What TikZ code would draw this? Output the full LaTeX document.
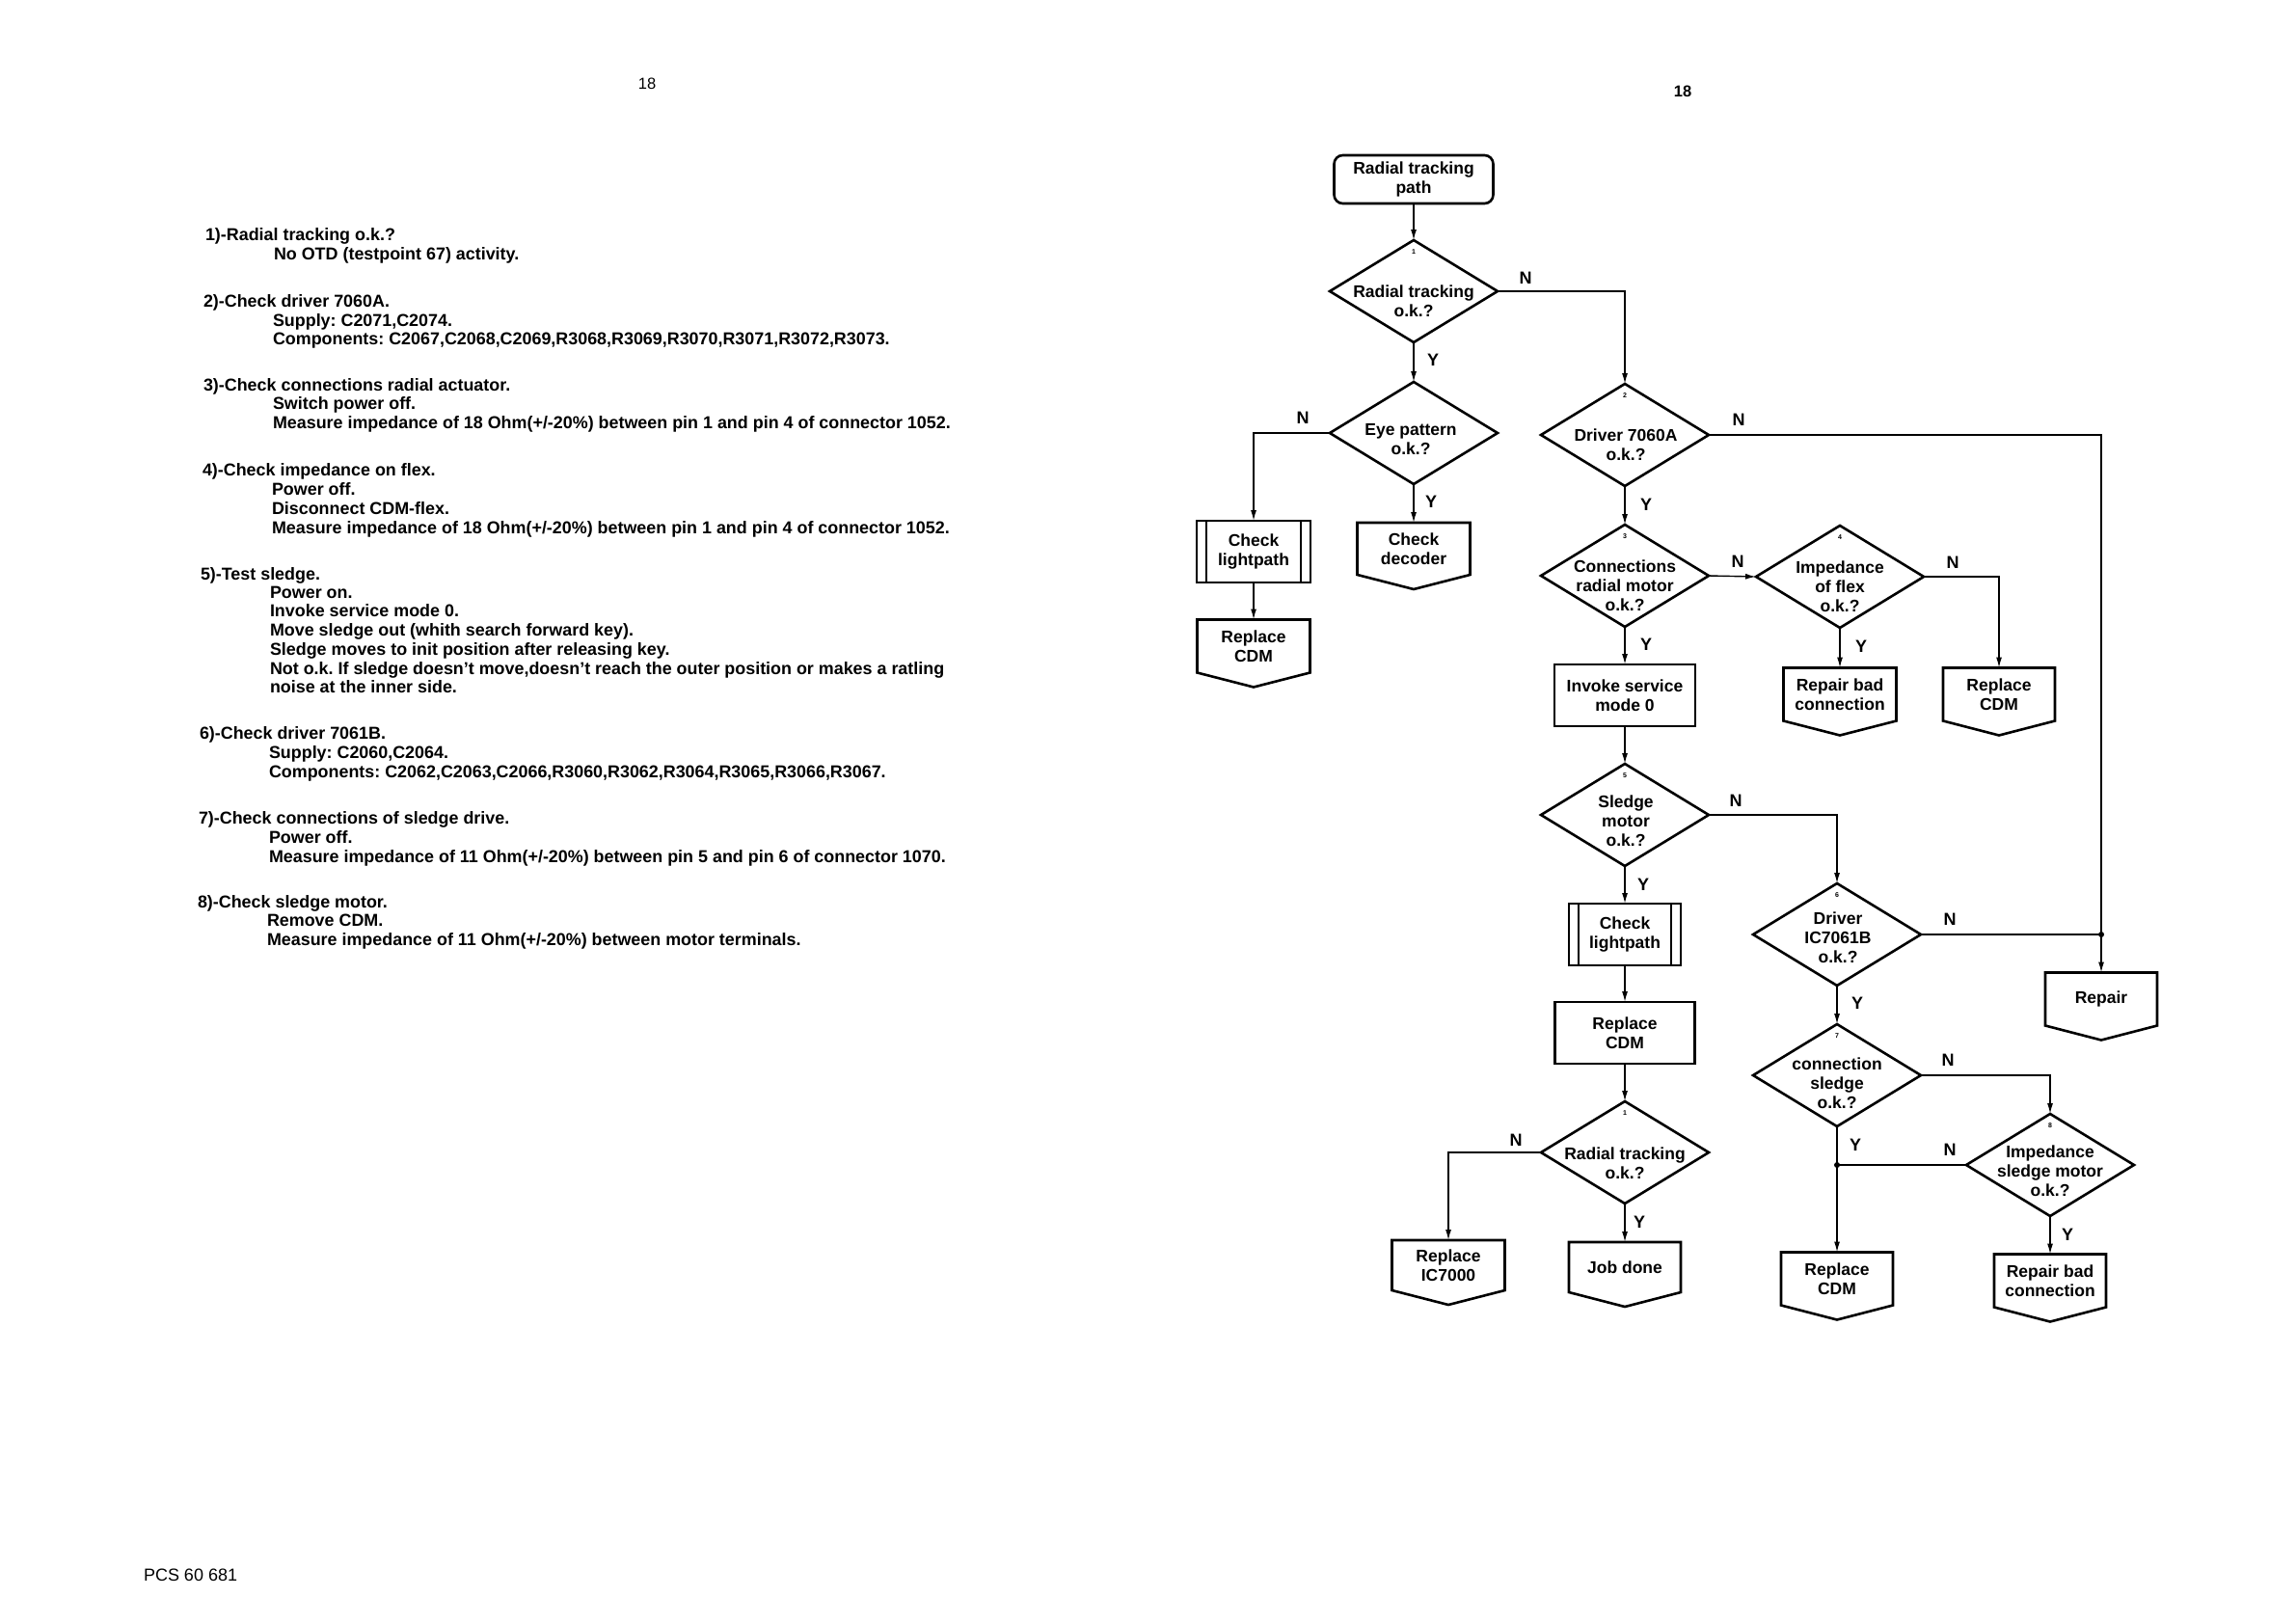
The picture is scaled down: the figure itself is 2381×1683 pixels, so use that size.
\documentclass[tikz,border=0pt]{standalone}
\usepackage{fontspec}
\setmainfont{Liberation Sans}
\usetikzlibrary{shapes.geometric,arrows.meta,calc}
\frenchspacing
\newcommand\opg[1]{\draw[line width=2.6pt,line join=miter] (#1.north west) -- (#1.north east) -- (#1.south east) -- ([yshift=-15pt]#1.south) -- (#1.south west) -- cycle;}
\newcommand\ppr[1]{\draw[line width=2.6pt] (#1.north west) rectangle (#1.south east);
  \draw[line width=2pt] ([xshift=10pt]#1.north west) -- ([xshift=10pt]#1.south west);
  \draw[line width=2pt] ([xshift=-10pt]#1.north east) -- ([xshift=-10pt]#1.south east);}
\begin{document}
\begin{tikzpicture}[x=1pt,y=-1pt,
  every node/.style={inner sep=0pt,outer sep=0pt},
  shp/.style={line width=2.6pt,font=\fontsize{17.5}{20}\selectfont\bfseries,align=center},
  dia/.style={shp,draw,diamond,minimum width=174pt,minimum height=106pt},
  dtext/.style={font=\fontsize{17.5}{20}\selectfont\bfseries,align=center},
  plainbox/.style={shp,draw,rectangle,minimum width=#1,minimum height=64pt},
  opbox/.style={shp,rectangle,minimum width=#1,minimum height=55pt},
  conn/.style={line width=1.4pt},
  arr/.style={conn,-{Latex[length=11pt,width=6pt]}},
  lab/.style={font=\fontsize{18}{20}\selectfont\bfseries},
  num/.style={font=\fontsize{7}{8}\selectfont\bfseries},
  body/.style={font=\fontsize{17.9}{20}\selectfont\bfseries,anchor=base west}]
\useasboundingbox (0,0) rectangle (2381,1683);
\fill[white] (0,0) rectangle (2381,1683);

% page headers
\node[font=\fontsize{16.5}{18}\selectfont] (pgL) at (671,87) {18};
\node[font=\fontsize{16.5}{18}\selectfont\bfseries] (pgR) at (1745,95) {18};
\node[font=\fontsize{18}{20}\selectfont,anchor=west] (pcs) at (149,1633) {PCS 60 681};

% left text
\node[body] (t1a) at (213,249) {1)-Radial tracking o.k.?};
\node[body] (t1b) at (284,269) {No OTD (testpoint 67) activity.};
\node[body] (t2a) at (211,318) {2)-Check driver 7060A.};
\node[body] (t2b) at (283,338) {Supply: C2071,C2074.};
\node[body] (t2c) at (283,357) {Components: C2067,C2068,C2069,R3068,R3069,R3070,R3071,R3072,R3073.};
\node[body] (t3a) at (211,405) {3)-Check connections radial actuator.};
\node[body] (t3b) at (283,424) {Switch power off.};
\node[body] (t3c) at (283,444) {Measure impedance of 18 Ohm(+/-20\%) between pin 1 and pin 4 of connector 1052.};
\node[body] (t4a) at (210,493) {4)-Check impedance on flex.};
\node[body] (t4b) at (282,513) {Power off.};
\node[body] (t4c) at (282,533) {Disconnect CDM-flex.};
\node[body] (t4d) at (282,553) {Measure impedance of 18 Ohm(+/-20\%) between pin 1 and pin 4 of connector 1052.};
\node[body] (t5a) at (208,601) {5)-Test sledge.};
\node[body] (t5b) at (280,620) {Power on.};
\node[body] (t5c) at (280,639) {Invoke service mode 0.};
\node[body] (t5d) at (280,659) {Move sledge out (whith search forward key).};
\node[body] (t5e) at (280,679) {Sledge moves to init position after releasing key.};
\node[body] (t5f) at (280,699) {Not o.k. If sledge doesn't move,doesn't reach the outer position or makes a ratling};
\node[body] (t5g) at (280,718) {noise at the inner side.};
\node[body] (t6a) at (207,766) {6)-Check driver 7061B.};
\node[body] (t6b) at (279,786) {Supply: C2060,C2064.};
\node[body] (t6c) at (279,806) {Components: C2062,C2063,C2066,R3060,R3062,R3064,R3065,R3066,R3067.};
\node[body] (t7a) at (206,854) {7)-Check connections of sledge drive.};
\node[body] (t7b) at (279,874) {Power off.};
\node[body] (t7c) at (279,894) {Measure impedance of 11 Ohm(+/-20\%) between pin 5 and pin 6 of connector 1070.};
\node[body] (t8a) at (205,941) {8)-Check sledge motor.};
\node[body] (t8b) at (277,960) {Remove CDM.};
\node[body] (t8c) at (277,980) {Measure impedance of 11 Ohm(+/-20\%) between motor terminals.};

% flowchart shapes
\node[shp,draw,rectangle,rounded corners=9pt,minimum width=165pt,minimum height=50pt] (start) at (1466,186) {Radial tracking\\path};

\node[dia] (d1) at (1466,302) {};
\node[dtext] (d1t) at (1466,312) {Radial tracking\\o.k.?};
\node[num] (d1n) at ([yshift=-12pt]d1.north) {1};

\node[dia] (eye) at (1466,449) {};
\node[dtext] (eyet) at (1463,456) {Eye pattern\\o.k.?};

\node[dia] (d2) at (1685,451) {};
\node[dtext] (d2t) at (1686,461) {Driver 7060A\\o.k.?};
\node[num] (d2n) at ([yshift=-12pt]d2.north) {2};

\node[dia] (d3) at (1685,597) {};
\node[dtext] (d3t) at (1685,607) {Connections\\radial motor\\o.k.?};
\node[num] (d3n) at ([yshift=-12pt]d3.north) {3};

\node[dia] (d4) at (1908,598) {};
\node[dtext] (d4t) at (1908,608) {Impedance\\of flex\\o.k.?};
\node[num] (d4n) at ([yshift=-12pt]d4.north) {4};

\node[dia] (d5) at (1685,845) {};
\node[dtext] (d5t) at (1686,851) {Sledge\\motor\\o.k.?};
\node[num] (d5n) at ([yshift=-12pt]d5.north) {5};

\node[dia] (d6) at (1905,969) {};
\node[dtext] (d6t) at (1906,972) {Driver\\IC7061B\\o.k.?};
\node[num] (d6n) at ([yshift=-12pt]d6.north) {6};

\node[dia] (d7) at (1905,1115) {};
\node[dtext] (d7t) at (1905,1123) {connection\\sledge\\o.k.?};
\node[num] (d7n) at ([yshift=-12pt]d7.north) {7};

\node[dia] (d1b) at (1685,1195) {};
\node[dtext] (d1bt) at (1685,1206) {Radial tracking\\o.k.?};
\node[num] (d1bn) at ([yshift=-12pt]d1b.north) {1};

\node[dia] (d8) at (2126,1208) {};
\node[dtext] (d8t) at (2126,1214) {Impedance\\sledge motor\\o.k.?};
\node[num] (d8n) at ([yshift=-12pt]d8.north) {8};

\node[shp,rectangle,minimum width=118pt,minimum height=64pt] (cl1) at (1300,572) {Check\\lightpath};
\ppr{cl1}
\node[opbox=117pt,minimum height=54pt] (cd) at (1466,569) {Check\\decoder};
\opg{cd}
\node[opbox=117pt] (rc1) at (1300,670) {Replace\\CDM};
\opg{rc1}
\node[plainbox=146pt] (inv) at (1685,721) {Invoke service\\mode 0};
\node[opbox=117pt] (rbc1) at (1908,720) {Repair bad\\connection};
\opg{rbc1}
\node[opbox=116pt] (rc2) at (2073,720) {Replace\\CDM};
\opg{rc2}
\node[shp,rectangle,minimum width=116pt,minimum height=64pt] (cl2) at (1685,969) {Check\\lightpath};
\ppr{cl2}
\node[plainbox=145pt] (rc3) at (1685,1071) {Replace\\CDM};
\node[opbox=116pt] (rep) at (2179,1036) {Repair};
\opg{rep}
\node[opbox=117pt,minimum height=52pt] (ric) at (1502,1312) {Replace\\IC7000};
\opg{ric}
\node[opbox=116pt,minimum height=52pt] (jd) at (1685,1314) {Job done};
\opg{jd}
\node[opbox=116pt] (rc4) at (1905,1326) {Replace\\CDM};
\opg{rc4}
\node[opbox=116pt] (rbc2) at (2126,1328) {Repair bad\\connection};
\opg{rbc2}

% connectors
\draw[arr] (start.south) -- (d1.north);
\draw[arr] (d1.east) -| (d2.north);
\draw[arr] (d1.south) -- (eye.north);
\draw[arr] (eye.west) -| (cl1.north);
\draw[arr] (eye.south) -- (cd.north);
\draw[arr] (cl1.south) -- (rc1.north);
\draw[arr] (d2.east) -| (rep.north);
\draw[arr] (d2.south) -- (d3.north);
\draw[arr] (d3.east) -- (d4.west);
\draw[arr] (d4.east) -| (rc2.north);
\draw[arr] (d4.south) -- (rbc1.north);
\draw[arr] (d3.south) -- (inv.north);
\draw[arr] (inv.south) -- (d5.north);
\draw[arr] (d5.east) -| (d6.north);
\draw[arr] (d5.south) -- (cl2.north);
\draw[arr] (cl2.south) -- (rc3.north);
\draw[arr] (rc3.south) -- (d1b.north);
\draw[arr] (d1b.west) -| (ric.north);
\draw[arr] (d1b.south) -- (jd.north);
\coordinate (j1) at (rep.north |- d6.east);
\draw[conn] (d6.east) -- (j1);
\fill (j1) circle (3pt);
\draw[arr] (d6.south) -- (d7.north);
\draw[arr] (d7.east) -| (d8.north);
\draw[arr] (d7.south) -- (rc4.north);
\coordinate (j2) at (d7.south |- d8.west);
\draw[conn] (d8.west) -- (j2);
\fill (j2) circle (3pt);
\draw[arr] (d8.south) -- (rbc2.north);

% Y / N labels
\node[lab] (n1) at (1582,288) {N};
\node[lab] (y1) at (1486,373) {Y};
\node[lab] (ne) at (1351,433) {N};
\node[lab] (ye) at (1484,520) {Y};
\node[lab] (n2) at (1803,435) {N};
\node[lab] (y2) at (1707,523) {Y};
\node[lab] (n3) at (1802,582) {N};
\node[lab] (y3) at (1707,668) {Y};
\node[lab] (n4) at (2025,583) {N};
\node[lab] (y4) at (1930,670) {Y};
\node[lab] (n5) at (1800,830) {N};
\node[lab] (y5) at (1704,917) {Y};
\node[lab] (n6) at (2022,953) {N};
\node[lab] (y6) at (1926,1040) {Y};
\node[lab] (n7) at (2020,1099) {N};
\node[lab] (y7) at (1924,1187) {Y};
\node[lab] (n1b) at (1572,1182) {N};
\node[lab] (y1b) at (1700,1267) {Y};
\node[lab] (n8) at (2022,1192) {N};
\node[lab] (y8) at (2144,1280) {Y};
\end{tikzpicture}
\end{document}
